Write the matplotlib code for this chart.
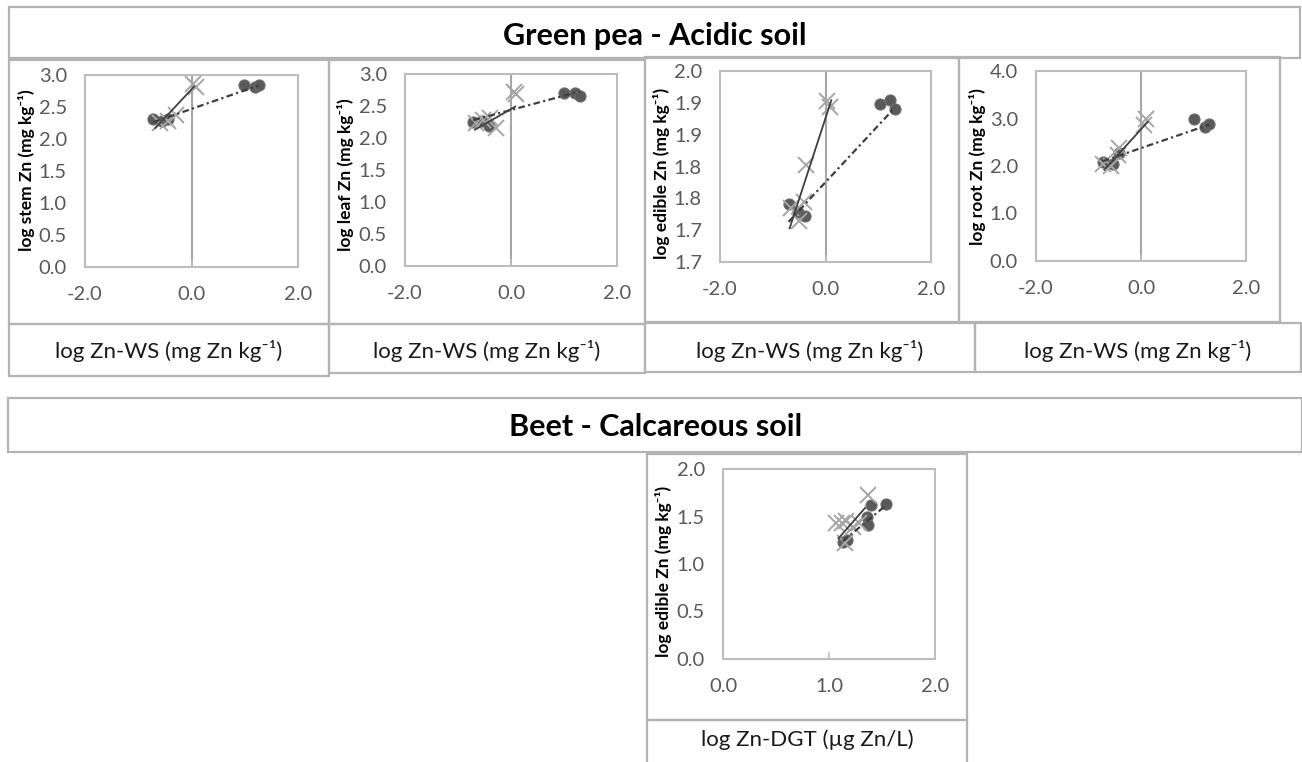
import matplotlib
matplotlib.use("Agg")
import matplotlib.pyplot as plt
from matplotlib.patches import Rectangle

plt.rcParams['font.family'] = ['Lato', 'DejaVu Sans']

W, H = 1302, 762

# titles / labels
top_title = "Green pea - Acidic soil"
bottom_title = "Beet - Calcareous soil"
ws_label = "log Zn-WS (mg Zn kg\u207b\u00b9)"
dgt_label = "log Zn-DGT (\u00b5g Zn/L)"
y_labels = ["log stem Zn (mg kg\u207b\u00b9)", "log leaf Zn (mg kg\u207b\u00b9)",
            "log edible Zn (mg kg\u207b\u00b9)", "log root Zn (mg kg\u207b\u00b9)",
            "log edible Zn (mg kg\u207b\u00b9)"]

# axis ticks
ws_xticks = [-2.0, 0.0, 2.0]
dgt_xticks = [0.0, 1.0, 2.0]
stem_yticks = [0.0, 0.5, 1.0, 1.5, 2.0, 2.5, 3.0]
leaf_yticks = [0.0, 0.5, 1.0, 1.5, 2.0, 2.5, 3.0]
edible_yticks = [1.70, 1.75, 1.80, 1.85, 1.90, 1.95, 2.00]
edible_ytick_labels = ["1.7", "1.7", "1.8", "1.8", "1.9", "1.9", "2.0"]
root_yticks = [0.0, 1.0, 2.0, 3.0, 4.0]
beet_yticks = [0.0, 0.5, 1.0, 1.5, 2.0]

# stem
stem_circle_x = [-0.72, -0.55, -0.45, 0.99, 1.19, 1.27]
stem_circle_y = [2.31, 2.28, 2.32, 2.85, 2.82, 2.84]
stem_cross_x = [-0.60, -0.45, -0.30, 0.02, 0.08]
stem_cross_y = [2.25, 2.28, 2.38, 2.86, 2.82]
stem_solid_x, stem_solid_y = [-0.68, 0.05], [2.17, 2.82]
stem_dash_x, stem_dash_y = [-0.72, 1.27], [2.26, 2.84]

# leaf
leaf_circle_x = [-0.71, -0.54, -0.41, 1.00, 1.21, 1.31]
leaf_circle_y = [2.25, 2.27, 2.18, 2.70, 2.71, 2.66]
leaf_cross_x = [-0.66, -0.52, -0.40, -0.28, 0.05, 0.10]
leaf_cross_y = [2.23, 2.28, 2.31, 2.16, 2.72, 2.68]
leaf_solid_x, leaf_solid_y = [-0.68, 0.08], [2.13, 2.49]
leaf_dash_x, leaf_dash_y = [-0.71, 1.31], [2.28, 2.73]

# edible (green pea)
edible_circle_x = [-0.70, -0.52, -0.39, 1.04, 1.23, 1.31]
edible_circle_y = [1.791, 1.779, 1.773, 1.948, 1.954, 1.940]
edible_cross_x = [-0.66, -0.50, -0.40, -0.37, 0.03, 0.09]
edible_cross_y = [1.785, 1.765, 1.795, 1.852, 1.953, 1.943]
edible_solid_x, edible_solid_y = [-0.68, 0.11], [1.753, 1.954]
edible_dash_x, edible_dash_y = [-0.70, 1.31], [1.763, 1.942]

# root
root_circle_x = [-0.73, -0.54, -0.41, 1.00, 1.21, 1.30]
root_circle_y = [2.09, 2.04, 2.27, 2.98, 2.83, 2.88]
root_cross_x = [-0.73, -0.57, -0.44, -0.41, 0.05, 0.09]
root_cross_y = [2.04, 1.99, 2.23, 2.37, 2.86, 2.98]
root_solid_x, root_solid_y = [-0.70, 0.13], [1.92, 2.93]
root_dash_x, root_dash_y = [-0.73, 1.30], [2.10, 2.87]

# beet edible
beet_circle_x = [1.13, 1.17, 1.36, 1.37, 1.40, 1.54]
beet_circle_y = [1.23, 1.25, 1.50, 1.41, 1.62, 1.63]
beet_cross_x = [1.07, 1.12, 1.16, 1.15, 1.23, 1.28, 1.37]
beet_cross_y = [1.43, 1.43, 1.45, 1.22, 1.39, 1.43, 1.73]
beet_solid_x, beet_solid_y = [1.09, 1.34], [1.27, 1.59]
beet_dash_x, beet_dash_y = [1.13, 1.54], [1.24, 1.62]

BOX = '#b3b3b3'
FRAME = '#bdbdbd'
TICK = '#595959'
DARK = '#3f3f3f'

fig = plt.figure(figsize=(W / 100, H / 100), dpi=100)
bg = fig.add_axes([0, 0, 1, 1])
bg.set_xlim(0, W)
bg.set_ylim(H, 0)
bg.axis('off')


def box(x0, y0, x1, y1):
    bg.add_patch(Rectangle((x0, y0), x1 - x0, y1 - y0, fill=False,
                           edgecolor=BOX, lw=1.6))


def px_axes(x0, y0, x1, y1):
    ax = fig.add_axes([x0 / W, 1 - y1 / H, (x1 - x0) / W, (y1 - y0) / H])
    ax.set_facecolor('none')
    return ax


# boxes of the layout
box(9, 7, 1300, 58)
box(9, 60, 329, 324)
box(9, 324, 329, 376)
box(329, 60, 645, 324)
box(329, 324, 645, 373)
box(645, 57, 959, 322)
box(645, 323, 975, 372)
box(959, 57, 1280, 322)
box(975, 323, 1301, 372)
box(8, 398, 1302, 452)
box(647, 454, 967, 720)
box(647, 720, 967, 765)

bg.text(655, 36, top_title, ha='center', va='center', fontsize=22, fontweight='bold')
bg.text(656, 427, bottom_title, ha='center', va='center', fontsize=22, fontweight='bold')
for cx in [169, 487, 810, 1138]:
    bg.text(cx, 351, ws_label, ha='center', va='center', fontsize=16, color='#1a1a1a')
bg.text(807, 740, dgt_label, ha='center', va='center', fontsize=16, color='#1a1a1a')

panels = [
    ((85, 75, 298, 267), (-2, 2), ws_xticks, (0, 3), stem_yticks, None,
     stem_circle_x, stem_circle_y, stem_cross_x, stem_cross_y,
     stem_solid_x, stem_solid_y, stem_dash_x, stem_dash_y, (27, 170)),
    ((405, 74, 617, 266), (-2, 2), ws_xticks, (0, 3), leaf_yticks, None,
     leaf_circle_x, leaf_circle_y, leaf_cross_x, leaf_cross_y,
     leaf_solid_x, leaf_solid_y, leaf_dash_x, leaf_dash_y, (345, 175)),
    ((720, 71, 931, 262), (-2, 2), ws_xticks, (1.7, 2.0), edible_yticks, edible_ytick_labels,
     edible_circle_x, edible_circle_y, edible_cross_x, edible_cross_y,
     edible_solid_x, edible_solid_y, edible_dash_x, edible_dash_y, (661, 173)),
    ((1036, 71, 1246, 261), (-2, 2), ws_xticks, (0, 4), root_yticks, None,
     root_circle_x, root_circle_y, root_cross_x, root_cross_y,
     root_solid_x, root_solid_y, root_dash_x, root_dash_y, (977, 167)),
    ((723, 469, 935, 659), (0, 2), dgt_xticks, (0, 2), beet_yticks, None,
     beet_circle_x, beet_circle_y, beet_cross_x, beet_cross_y,
     beet_solid_x, beet_solid_y, beet_dash_x, beet_dash_y, (663, 571)),
]

for i, p in enumerate(panels):
    (rect, xlim, xticks, ylim, yticks, ylabels, cx, cy, kx, ky,
     sx, sy, dx, dy, lab_pos) = p
    ax = px_axes(*rect)
    ax.set_xlim(*xlim)
    ax.set_ylim(*ylim)
    ax.set_xticks(xticks)
    ax.set_xticklabels([f"{v:.1f}" for v in xticks])
    ax.set_yticks(yticks)
    if ylabels is None:
        ax.set_yticklabels([f"{v:.1f}" for v in yticks])
    else:
        ax.set_yticklabels(ylabels)
    for s in ax.spines.values():
        s.set_color(FRAME)
        s.set_linewidth(1.5)
    ax.tick_params(axis='x', direction='in', length=5, width=1.2, color=FRAME,
                   labelsize=14.5, labelcolor=TICK, pad=14)
    ax.tick_params(axis='y', length=0, labelsize=14.5, labelcolor=TICK, pad=13)
    if xlim[0] < 0:
        ax.axvline(0, color='#a6a6a6', lw=1.5, zorder=1)
    ax.plot(cx, cy, 'o', ms=8, color='#5a5a5a', mec='#6e6e6e', mew=0.8, zorder=3)
    ax.plot(kx, ky, 'x', ms=12, color='#a6a6a6', mew=1.4, zorder=4)
    ax.plot(sx, sy, '-', color=DARK, lw=1.3, zorder=5)
    ax.plot(dx, dy, color=DARK, lw=1.6, ls=(0, (3, 1.5, 1, 1.5)), zorder=5)
    bg.text(lab_pos[0], lab_pos[1], y_labels[i], rotation=90, ha='center', va='center',
            fontsize=12.5, fontweight='bold')

fig.savefig('out.png', dpi=100)
